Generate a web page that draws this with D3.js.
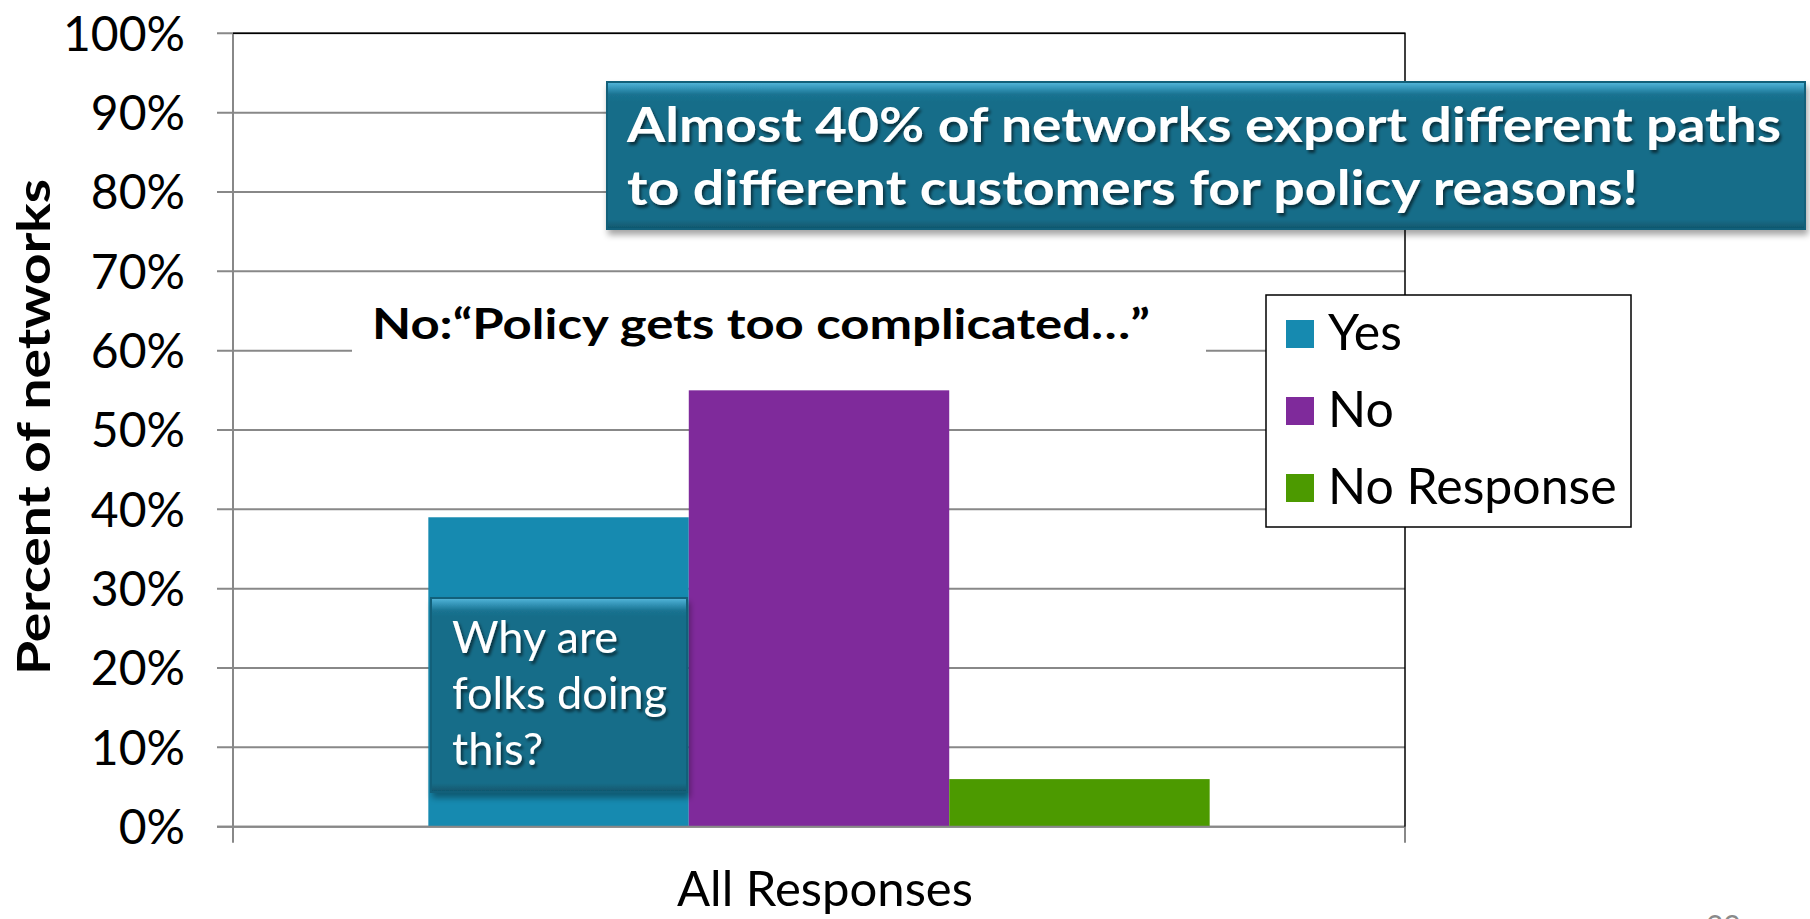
<!DOCTYPE html>
<html>
<head>
<meta charset="utf-8">
<script src="https://cdn.jsdelivr.net/npm/d3@7"></script>
<style>
  html, body { margin: 0; padding: 0; background: #ffffff; }
  svg { display: block; font-family: Lato, "Open Sans", sans-serif; }
</style>
</head>
<body>
<svg id="chart" width="1810" height="919"></svg>
<script>
// ---------------- data ----------------
const categories = ["All Responses"];
const seriesNames = ["Yes", "No", "No Response"];
const seriesValues = [39, 55, 6];            // percent of networks
const seriesColors = ["#168AB0", "#7F2A9B", "#4C9A00"];
const yTickValues = [0, 10, 20, 30, 40, 50, 60, 70, 80, 90, 100];
const yTickLabels = ["0%", "10%", "20%", "30%", "40%", "50%", "60%", "70%", "80%", "90%", "100%"];
const yAxisTitle = "Percent of networks";
const annotationNo = "No:\u201CPolicy gets too complicated\u2026\u201D";
const calloutMainLines = ["Almost 40% of networks export different paths", "to different customers for policy reasons!"];
const calloutWhyLines = ["Why are", "folks doing", "this?"];
const pageNumber = "39";

// ---------------- layout ----------------
const plot = { left: 233, right: 1405, top: 33.3, bottom: 826.7 };
const svg = d3.select("#chart");

const y = d3.scaleLinear().domain([0, 100]).range([plot.bottom, plot.top]);
const x0 = d3.scaleBand().domain(categories).range([plot.left, plot.right]).paddingInner(0).paddingOuter(0.25);
const x1 = d3.scaleBand().domain(seriesNames).range([0, x0.bandwidth()]).padding(0);
const color = d3.scaleOrdinal().domain(seriesNames).range(seriesColors);

// defs: gradients + filters
const defs = svg.append("defs");
const grad = defs.append("linearGradient").attr("id", "bevel").attr("x1", 0).attr("y1", 0).attr("x2", 0).attr("y2", 1);
[["0%", "#5bbde0"], ["4%", "#3a9cc0"], ["9%", "#1a7391"], ["14%", "#176D89"], ["93%", "#176D89"], ["100%", "#0f5368"]]
  .forEach(([o, c]) => grad.append("stop").attr("offset", o).attr("stop-color", c));
const grad2 = defs.append("linearGradient").attr("id", "bevel2").attr("x1", 0).attr("y1", 0).attr("x2", 0).attr("y2", 1);
[["0%", "#5bbde0"], ["3%", "#3a9cc0"], ["7%", "#1a7391"], ["10%", "#176D89"], ["95%", "#176D89"], ["100%", "#0f5368"]]
  .forEach(([o, c]) => grad2.append("stop").attr("offset", o).attr("stop-color", c));
const shadow = defs.append("filter").attr("id", "boxShadow").attr("x", "-5%").attr("y", "-10%").attr("width", "115%").attr("height", "130%");
shadow.append("feDropShadow").attr("dx", 2).attr("dy", 5).attr("stdDeviation", 3).attr("flood-color", "#000").attr("flood-opacity", 0.35);
const tshadow = defs.append("filter").attr("id", "textShadow").attr("x", "-5%").attr("y", "-20%").attr("width", "115%").attr("height", "150%");
tshadow.append("feDropShadow").attr("dx", 2).attr("dy", 3).attr("stdDeviation", 1.5).attr("flood-color", "#000").attr("flood-opacity", 0.55);

// gridlines + y ticks
const grid = svg.append("g");
grid.selectAll("line").data(yTickValues).join("line")
  .attr("x1", plot.left - 16).attr("x2", plot.right)
  .attr("y1", d => y(d)).attr("y2", d => y(d))
  .attr("stroke", "#888888").attr("stroke-width", 2);

// y tick labels
svg.append("g").selectAll("text").data(yTickValues).join("text")
  .attr("x", 185).attr("y", d => y(d)).attr("dy", "0.36em")
  .attr("text-anchor", "end").attr("font-size", 48).attr("fill", "#000")
  .text((d, i) => yTickLabels[i]);

// y axis title
svg.append("text")
  .attr("transform", "translate(50,427) rotate(-90)")
  .attr("text-anchor", "middle").attr("font-size", 46).attr("font-weight", 700)
  .attr("textLength", 496).attr("lengthAdjust", "spacingAndGlyphs")
  .text(yAxisTitle);

// white box behind the "No:" annotation (cuts the 60% gridline)
svg.append("rect").attr("x", 352).attr("y", 292).attr("width", 854).attr("height", 76).attr("fill", "#fff");
svg.append("text").attr("x", 372).attr("y", 339).attr("font-size", 42).attr("font-weight", 700)
  .attr("textLength", 778).attr("lengthAdjust", "spacingAndGlyphs")
  .text(annotationNo);

// bars
const barsG = svg.append("g");
categories.forEach(cat => {
  barsG.selectAll("rect.bar").data(seriesNames.map((s, i) => ({ s, v: seriesValues[i] }))).join("rect")
    .attr("class", "bar")
    .attr("x", d => x0(cat) + x1(d.s)).attr("width", x1.bandwidth())
    .attr("y", d => y(d.v)).attr("height", d => y(0) - y(d.v))
    .attr("fill", d => color(d.s));
});

// axes lines
svg.append("line").attr("x1", plot.left).attr("x2", plot.left).attr("y1", plot.top).attr("y2", plot.bottom + 16)
  .attr("stroke", "#888888").attr("stroke-width", 2);
svg.append("line").attr("x1", plot.left - 16).attr("x2", plot.right).attr("y1", plot.bottom).attr("y2", plot.bottom)
  .attr("stroke", "#888888").attr("stroke-width", 2);
svg.append("line").attr("x1", plot.right).attr("x2", plot.right).attr("y1", plot.bottom).attr("y2", plot.bottom + 16)
  .attr("stroke", "#888888").attr("stroke-width", 2);
// plot-area border top/right
svg.append("path").attr("d", `M${plot.left},${plot.top}H${plot.right}V${plot.bottom}`)
  .attr("fill", "none").attr("stroke", "#000").attr("stroke-width", 1.5);

// x category label
svg.append("text").attr("x", x0(categories[0]) + x0.bandwidth() / 2 + 6).attr("y", 906)
  .attr("text-anchor", "middle").attr("font-size", 48)
  .attr("textLength", 296).attr("lengthAdjust", "spacingAndGlyphs")
  .text(categories[0]);

// legend
const legend = svg.append("g").attr("transform", "translate(1266,295)");
legend.append("rect").attr("width", 365).attr("height", 232).attr("fill", "#fff").attr("stroke", "#000").attr("stroke-width", 1.5);
const li = legend.selectAll("g.item").data(seriesNames).join("g").attr("class", "item")
  .attr("transform", (d, i) => `translate(20,${25 + i * 77})`);
li.append("rect").attr("width", 28).attr("height", 28).attr("fill", d => color(d));
li.append("text").attr("x", 42).attr("y", 30).attr("font-size", 50).text(d => d);

// main callout
const c1 = svg.append("g");
c1.append("rect").attr("x", 606).attr("y", 81).attr("width", 1200).attr("height", 149)
  .attr("fill", "url(#bevel)").attr("filter", "url(#boxShadow)");
c1.append("rect").attr("x", 607).attr("y", 82).attr("width", 1198).attr("height", 147)
  .attr("fill", "none").attr("stroke", "#12607a").attr("stroke-width", 2);
const mainWidths = [1154, 1011];
c1.selectAll("text").data(calloutMainLines).join("text")
  .attr("x", 627).attr("y", (d, i) => 141.5 + i * 63.5)
  .attr("font-size", 48).attr("font-weight", 700).attr("fill", "#fff")
  .attr("textLength", (d, i) => mainWidths[i]).attr("lengthAdjust", "spacingAndGlyphs")
  .attr("filter", "url(#textShadow)")
  .text(d => d);

// "why" callout
const c2 = svg.append("g");
c2.append("rect").attr("x", 430).attr("y", 597).attr("width", 258).attr("height", 196)
  .attr("fill", "url(#bevel2)").attr("filter", "url(#boxShadow)");
c2.append("rect").attr("x", 431).attr("y", 598).attr("width", 256).attr("height", 194)
  .attr("fill", "none").attr("stroke", "#12607a").attr("stroke-width", 2);
c2.selectAll("text").data(calloutWhyLines).join("text")
  .attr("x", 452).attr("y", (d, i) => 653 + i * 56)
  .attr("font-size", 45).attr("fill", "#fff")
  .attr("filter", "url(#textShadow)")
  .text(d => d);

// page number (mostly cut off at bottom)
svg.append("text").attr("x", 1706).attr("y", 937).attr("font-size", 30).attr("fill", "#8a8a8a").text(pageNumber);
</script>
</body>
</html>
